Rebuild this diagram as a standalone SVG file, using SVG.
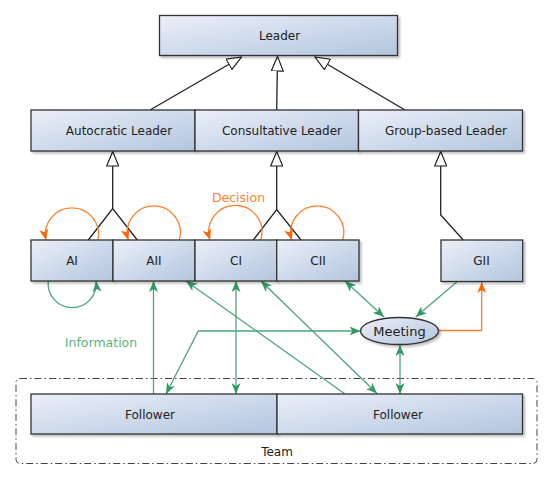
<svg xmlns="http://www.w3.org/2000/svg" width="554" height="480" viewBox="0 0 554 480">
<style>
.box{fill:url(#grad);stroke:#333;stroke-width:1.3;filter:url(#sh)}
.lbl{font-family:"DejaVu Sans",sans-serif;font-size:12px;fill:#222;text-anchor:middle}
.inh{fill:none;stroke:#222;stroke-width:1.3}
.g{fill:none;stroke:#4ea67c;stroke-width:1.3}
.o{fill:none;stroke:#ff7f2a;stroke-width:1.3}
.team{fill:none;stroke:#444;stroke-width:1;stroke-dasharray:7,3,1.5,3}
</style>
<defs>
<linearGradient id="grad" x1="0" y1="0" x2="1" y2="1">
<stop offset="0" stop-color="#ebf0f8"/>
<stop offset="1" stop-color="#b3c5df"/>
</linearGradient>
<filter id="sh" x="-5%" y="-10%" width="115%" height="140%">
<feDropShadow dx="2" dy="2" stdDeviation="1.2" flood-color="#000" flood-opacity="0.25"/>
</filter>
<marker id="hollow" viewBox="0 0 16 13" refX="15" refY="6.5" markerWidth="16" markerHeight="13" markerUnits="userSpaceOnUse" orient="auto">
<path d="M0.5,0.5 L15,6.5 L0.5,12.5 Z" fill="#fff" stroke="#222" stroke-width="1.2"/>
</marker>
<marker id="ga" viewBox="0 0 11 9" refX="11" refY="4.5" markerWidth="11" markerHeight="9" markerUnits="userSpaceOnUse" orient="auto-start-reverse">
<path d="M0,0 L11,4.5 L0,9 L3,4.5 Z" fill="#2f9a62"/>
</marker>
<marker id="oa" viewBox="0 0 11 9" refX="11" refY="4.5" markerWidth="11" markerHeight="9" markerUnits="userSpaceOnUse" orient="auto">
<path d="M0,0 L11,4.5 L0,9 L3,4.5 Z" fill="#ff6600"/>
</marker>
</defs>

<g id="team">
<rect class="team" x="16" y="378.5" width="521" height="85" rx="4"/>
<text class="lbl" x="277" y="456">Team</text>
</g>

<g id="connectors">
<!-- inheritance -->
<path class="inh" d="M150,110 L241.5,57" marker-end="url(#hollow)"/>
<path class="inh" d="M276.7,110 L277.5,56.5" marker-end="url(#hollow)"/>
<path class="inh" d="M405,110 L315,57" marker-end="url(#hollow)"/>
<path class="inh" d="M88.3,240 L112.7,208.5 L137.3,240"/>
<path class="inh" d="M112.7,208.5 L112.7,151.5" marker-end="url(#hollow)"/>
<path class="inh" d="M253.3,240 L276.7,209.5 L301,240"/>
<path class="inh" d="M276.7,209.5 L276.7,151.5" marker-end="url(#hollow)"/>
<path class="inh" d="M463.3,240 L440.7,215 L440.7,151.5" marker-end="url(#hollow)"/>
<!-- decision loops -->
<path class="o" d="M98,240 A26.6,26.6 0 1 0 46,240" marker-end="url(#oa)"/>
<path class="o" d="M179.3,240 A26.6,26.6 0 1 0 128.3,240" marker-end="url(#oa)"/>
<path class="o" d="M260.7,240 A26.6,26.6 0 1 0 210,240" marker-end="url(#oa)"/>
<path class="o" d="M342.7,240 A26.6,26.6 0 1 0 291.7,240" marker-end="url(#oa)"/>
<path class="o" d="M438.5,330.5 L481.7,330.5 L481.7,282" marker-end="url(#oa)"/>
<!-- information -->
<path class="g" d="M48.3,281 A24,24 0 1 0 96,281" marker-end="url(#ga)"/>
<path class="g" d="M153.5,394 L153.5,281" marker-end="url(#ga)"/>
<path class="g" d="M236,394 L236,281" marker-start="url(#ga)" marker-end="url(#ga)"/>
<path class="g" d="M345,394 L186,281" marker-end="url(#ga)"/>
<path class="g" d="M261,281 L377,393.5" marker-start="url(#ga)" marker-end="url(#ga)"/>
<path class="g" d="M345,281 L384,317" marker-start="url(#ga)" marker-end="url(#ga)"/>
<path class="g" d="M456.7,282 L415.7,317" marker-end="url(#ga)"/>
<path class="g" d="M400,345 L400,394" marker-start="url(#ga)" marker-end="url(#ga)"/>
<path class="g" d="M166,394 L198.3,331 L360.5,331" marker-start="url(#ga)" marker-end="url(#ga)"/>
</g>

<g id="leader"><rect class="box" x="159.5" y="15.5" width="238" height="40"/><text class="lbl" x="279.5" y="40">Leader</text></g>
<g id="autocratic"><rect class="box" x="31" y="110" width="164" height="41"/><text class="lbl" x="119" y="135">Autocratic Leader</text></g>
<g id="consultative"><rect class="box" x="195" y="110" width="163.5" height="41"/><text class="lbl" x="282" y="135">Consultative Leader</text></g>
<g id="groupbased"><rect class="box" x="358.5" y="110" width="164" height="41"/><text class="lbl" x="446" y="135">Group-based Leader</text></g>

<g id="ai"><rect class="box" x="31" y="240" width="82" height="41"/><text class="lbl" x="72" y="265">AI</text></g>
<g id="aii"><rect class="box" x="113" y="240" width="82" height="41"/><text class="lbl" x="154" y="265">AII</text></g>
<g id="ci"><rect class="box" x="195" y="240" width="81.7" height="41"/><text class="lbl" x="236" y="265">CI</text></g>
<g id="cii"><rect class="box" x="276.7" y="240" width="82.3" height="41"/><text class="lbl" x="318" y="265">CII</text></g>
<g id="gii"><rect class="box" x="441" y="240" width="81.7" height="41.5"/><text class="lbl" x="481.5" y="265">GII</text></g>

<g id="meeting"><ellipse class="box" cx="399.5" cy="331" rx="39" ry="13.5"/><text class="lbl" x="399.5" y="335.5" style="font-size:13px">Meeting</text></g>

<g id="follower1"><rect class="box" x="31" y="394" width="246" height="40"/><text class="lbl" x="150" y="419">Follower</text></g>
<g id="follower2"><rect class="box" x="277" y="394" width="245.5" height="40"/><text class="lbl" x="398" y="419">Follower</text></g>

<text class="lbl" x="238.5" y="201.5" style="fill:#ff7f2a;font-size:12.5px">Decision</text>
<text class="lbl" x="101" y="347" style="fill:#5cb482;font-size:12.5px">Information</text>
</svg>
